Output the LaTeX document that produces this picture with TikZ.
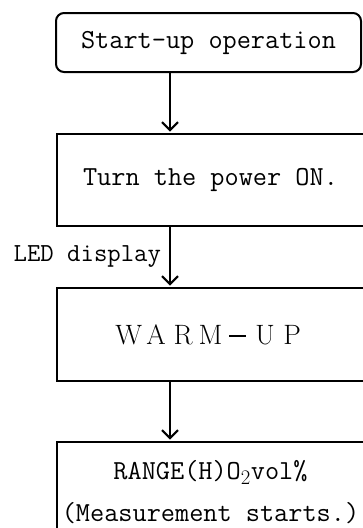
\documentclass[tikz,border=0pt]{standalone}
\usepackage{tikz}
\usetikzlibrary{arrows.meta, positioning}

\newcommand{\widechar}[1]{\makebox[27.25pt]{#1}}

\begin{document}
\begin{tikzpicture}[
        x=1pt, y=1pt,
        box/.style={rectangle, draw=black, line width=2pt, minimum width=307pt, inner sep=0pt, align=center, font=\fontsize{27.5}{42}\selectfont\ttfamily},
        label/.style={font=\fontsize{26}{30}\selectfont\ttfamily, inner sep=8pt},
        arrow/.style={-{Straight Barb[length=8pt,width=16pt]}, line width=2pt, shorten >=1.5pt}
    ]
        \useasboundingbox (0,0) rectangle (363,-528);
        \coordinate (axis) at (170,0);

        \node[box, rounded corners=8pt, minimum width=305pt, minimum height=59pt] (start) at (208.5,-42.5) {Start-up operation};
        \node[box, minimum height=92pt] (power) at (210.5,-180) {Turn the power ON.};
        \node[box, minimum height=93pt, font=\fontsize{28}{30}\selectfont\rmfamily] (warm) at (210.5,-334.5)
            {\widechar{W}\widechar{A}\widechar{R}\widechar{M}\widechar{\rule[7.5pt]{17pt}{1.2pt}}\widechar{U}\widechar{P}};
        \node[box, minimum height=101pt] (range) at (210.5,-492.5) {RANGE(H)O$_2$vol\%\\(Measurement starts.)};

        \draw[arrow] (start.south -| axis) -- (power.north -| axis);
        \draw[arrow] (power.south -| axis) -- node[label, left] {LED display} (warm.north -| axis);
        \draw[arrow] (warm.south -| axis) -- (range.north -| axis);
    \end{tikzpicture}
\end{document}
